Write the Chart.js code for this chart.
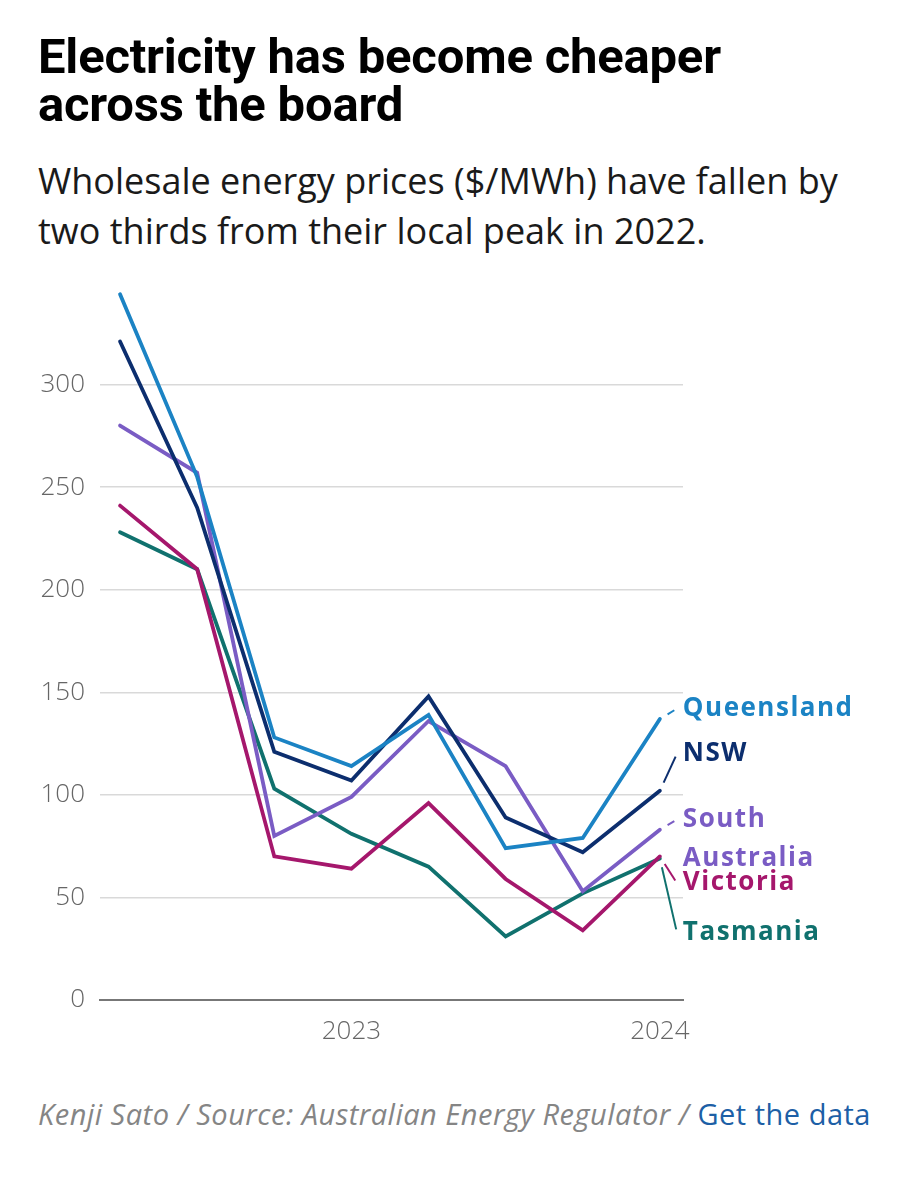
<!DOCTYPE html>
<html>
<head>
<meta charset="utf-8">
<script src="https://cdn.jsdelivr.net/npm/chart.js@4.4.1/dist/chart.umd.min.js"></script>
<style>
    body {
        margin: 0;
        background: #ffffff;
        width: 916px;
        height: 1200px;
        position: relative;
        overflow: hidden;
        font-family: "Open Sans", "Noto Sans", sans-serif;
    }
    #title {
        position: absolute;
        left: 38px;
        top: 33px;
        margin: 0;
        font-family: Roboto, sans-serif;
        font-size: 49px;
        line-height: 48px;
        font-weight: 700;
        letter-spacing: -0.2px;
        color: #000000;
    }
    #subtitle {
        position: absolute;
        left: 38px;
        top: 156px;
        margin: 0;
        font-size: 36px;
        line-height: 50px;
        font-weight: 400;
        color: #1a1a1a;
    }
    #chart {
        position: absolute;
        left: 0;
        top: 260px;
    }
    #footer {
        position: absolute;
        left: 38px;
        top: 1094px;
        font-size: 29px;
        letter-spacing: 0.5px;
        color: #858585;
        font-style: italic;
        font-weight: 400;
        white-space: nowrap;
    }
    #footer span {
        font-style: normal;
        color: #1d5fa6;
    }
</style>
</head>
<body>
<h1 id="title">Electricity has become cheaper<br>across the board</h1>
<p id="subtitle">Wholesale energy prices ($/MWh) have fallen by<br>two thirds from their local peak in 2022.</p>
<canvas id="chart" width="916" height="800"></canvas>
<div id="footer">Kenji Sato / Source: Australian Energy Regulator / <span>Get the data</span></div>

<script>
// quarterly wholesale prices, $/MWh
const quarters = ["Q2 2022", "Q3 2022", "Q4 2022", "Q1 2023", "Q2 2023", "Q3 2023", "Q4 2023", "Q1 2024"];
const queensland = [344, 255, 128, 114, 139, 74, 79, 137];
const nsw = [321, 240, 121, 107, 148, 89, 72, 102];
const southAustralia = [280, 257, 80, 99, 136, 114, 53, 83];
const victoria = [241, 210, 70, 64, 96, 59, 34, 70];
const tasmania = [228, 210, 103, 81, 65, 31, 52, 69];

const yTicks = [0, 50, 100, 150, 200, 250, 300];
const xTickLabels = { "Q1 2023": "2023", "Q1 2024": "2024" };

const seriesNames = [["Queensland"], ["NSW"], ["South", "Australia"], ["Victoria"], ["Tasmania"]];
const seriesValues = [queensland, nsw, southAustralia, victoria, tasmania];
const seriesColors = ["#1b83c4", "#0c2e6e", "#7a5cc4", "#a5176c", "#10716e"];

const FONT = '"Open Sans", "Noto Sans", sans-serif';

// end labels with a short dash pointing back at the line
const endLabelPlugin = {
    id: "endLabels",
    afterDatasetsDraw(chart, args, opts) {
        const ctx = chart.ctx;
        const yScale = chart.scales.y;
        ctx.save();
        chart.data.datasets.forEach((dataset, i) => {
            const meta = chart.getDatasetMeta(i);
            const last = meta.data[meta.data.length - 1];
            const labelY = yScale.getPixelForValue(opts.anchors[i]);
            const ax = last.x + 17;
            const dx = ax - last.x;
            const dy = labelY - last.y;
            const len = Math.sqrt(dx * dx + dy * dy);
            const ux = dx / len;
            const uy = dy / len;

            ctx.strokeStyle = dataset.borderColor;
            ctx.lineWidth = 2;
            ctx.beginPath();
            ctx.moveTo(last.x + ux * 9, last.y + uy * 9);
            ctx.lineTo(ax - ux * 3, labelY - uy * 3);
            ctx.stroke();

            ctx.fillStyle = dataset.borderColor;
            ctx.font = "bold 26px " + FONT;
            ctx.letterSpacing = "1.5px";
            ctx.textAlign = "left";
            ctx.textBaseline = "middle";
            seriesNames[i].forEach((line, j) => {
                ctx.fillText(line, last.x + 23, labelY + j * 39);
            });
        });
        ctx.restore();
    },
};

const datasets = seriesValues.map((values, i) => ({
    label: seriesNames[i].join(" "),
    data: values.map((v, j) => ({ x: j, y: v })),
    borderColor: seriesColors[i],
    backgroundColor: seriesColors[i],
    borderWidth: 3.8,
    pointRadius: 0,
    tension: 0,
    borderCapStyle: "round",
}));

new Chart(document.getElementById("chart"), {
    type: "line",
    data: { datasets: datasets },
    plugins: [endLabelPlugin],
    options: {
        responsive: false,
        animation: false,
        layout: {
            padding: { top: 22, right: 233, left: 0, bottom: 0 },
        },
        plugins: {
            legend: { display: false },
            tooltip: { enabled: false },
            endLabels: {
                anchors: [142, 120, 88, 57, 33],
            },
        },
        scales: {
            x: {
                type: "linear",
                min: -0.26,
                max: 7.3,
                afterBuildTicks: function(axis) {
                    axis.ticks = quarters
                        .map((q, i) => ({ value: i, q: q }))
                        .filter(t => xTickLabels[t.q])
                        .map(t => ({ value: t.value }));
                },
                afterFit: function(axis) {
                    axis.height = 60;
                    axis.paddingLeft = 0;
                    axis.paddingRight = 0;
                },
                grid: { display: false, drawTicks: false },
                border: { color: "#777777", width: 2 },
                ticks: {
                    autoSkip: false,
                    maxRotation: 0,
                    padding: 16,
                    color: "#666666",
                    font: { family: FONT, size: 26, weight: "300" },
                    callback: function(value) {
                        return xTickLabels[quarters[value]] || "";
                    },
                },
            },
            y: {
                min: 0,
                max: 350,
                afterBuildTicks: function(axis) {
                    axis.ticks = yTicks.map(v => ({ value: v }));
                },
                afterFit: function(axis) {
                    axis.width = 100;
                    axis.paddingTop = 0;
                    axis.paddingBottom = 0;
                },
                border: { display: false },
                grid: {
                    drawTicks: false,
                    lineWidth: 1.5,
                    color: function(context) {
                        if (context.tick.value == 0) return "rgba(0,0,0,0)";
                        return "#d9d9d9";
                    },
                },
                ticks: {
                    padding: 15,
                    color: "#666666",
                    font: { family: FONT, size: 26, weight: "300" },
                },
            },
        },
    },
});
</script>
</body>
</html>
